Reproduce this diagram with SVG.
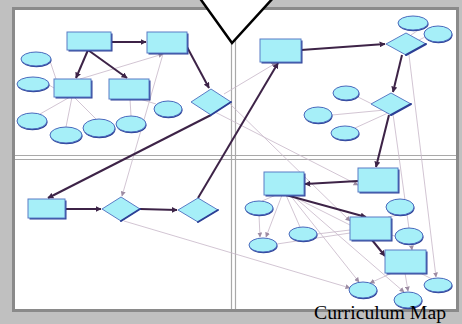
<svg xmlns="http://www.w3.org/2000/svg" width="462" height="324" viewBox="0 0 462 324">
<style>
.rs{fill:#2c3f95}
.rf{fill:#a6eff8;stroke:#5b7cc6;stroke-width:1}
.es{fill:#2c3f95}
.ef{fill:#a6eff8;stroke:#4a69bd;stroke-width:1}
.df{fill:#a6eff8;stroke:#5b7cc6;stroke-width:1}
.de{fill:none;stroke:#2c3f95;stroke-width:2;stroke-linecap:round}
.thick{fill:none;stroke:#3d2347;stroke-width:2}
.thin{fill:none;stroke:#c6b6c8;stroke-width:0.8}
.div{stroke:#a9a9a9;stroke-width:1.2}
</style>
<defs>
<marker id="ad" viewBox="0 0 10 10" refX="9" refY="5" markerWidth="6" markerHeight="6" markerUnits="userSpaceOnUse" orient="auto"><path d="M0,0 L10,5 L0,10 z" fill="#3d2347"/></marker>
<marker id="al" viewBox="0 0 10 10" refX="9" refY="5" markerWidth="5" markerHeight="5" markerUnits="userSpaceOnUse" orient="auto"><path d="M0,0 L10,5 L0,10 z" fill="#9d8ca3"/></marker>
</defs>
<rect x="0" y="0" width="462" height="324" fill="#c0c0c0"/>
<rect x="13.5" y="8.5" width="444" height="302" fill="#ffffff" stroke="#8a8a8a" stroke-width="3"/>
<g id="dividers">
<line class="div" x1="15" y1="155.5" x2="456" y2="155.5"/>
<line class="div" x1="15" y1="159.5" x2="456" y2="159.5"/>
<line class="div" x1="231.5" y1="10" x2="231.5" y2="309"/>
<line class="div" x1="235.5" y1="10" x2="235.5" y2="309"/>
</g>
<g id="connectors">
<line class="thin" x1="50" y1="61" x2="56" y2="79"/>
<line class="thin" x1="49" y1="85" x2="54" y2="88"/>
<line class="thin" x1="70" y1="97" x2="40" y2="114"/>
<line class="thin" x1="72" y1="97" x2="66" y2="127"/>
<line class="thin" x1="74" y1="97" x2="96" y2="119"/>
<line class="thin" x1="130" y1="99" x2="131" y2="116"/>
<line class="thin" x1="140" y1="99" x2="156" y2="104"/>
<line class="thin" x1="80" y1="79" x2="163" y2="54" marker-end="url(#al)"/>
<line class="thin" x1="163" y1="54" x2="122" y2="196" marker-end="url(#al)"/>
<line class="thin" x1="224" y1="94" x2="276" y2="63" marker-end="url(#al)"/>
<line class="thin" x1="229" y1="103" x2="350" y2="221" marker-end="url(#al)"/>
<line class="thin" x1="215" y1="112" x2="358" y2="185" marker-end="url(#al)"/>
<line class="thin" x1="420" y1="29" x2="411" y2="35"/>
<line class="thin" x1="425" y1="37" x2="419" y2="40"/>
<line class="thin" x1="358" y1="97" x2="372" y2="104"/>
<line class="thin" x1="332" y1="115" x2="385" y2="110"/>
<line class="thin" x1="355" y1="128" x2="388" y2="113"/>
<line class="thin" x1="409" y1="55" x2="436" y2="277" marker-end="url(#al)"/>
<line class="thin" x1="393" y1="114" x2="412" y2="250" marker-end="url(#al)"/>
<line class="thin" x1="124" y1="221" x2="350" y2="288" marker-end="url(#al)"/>
<line class="thin" x1="276" y1="195" x2="262" y2="201"/>
<line class="thin" x1="282" y1="195" x2="266" y2="237" marker-end="url(#al)"/>
<line class="thin" x1="259" y1="215" x2="260" y2="237" marker-end="url(#al)"/>
<line class="thin" x1="286" y1="195" x2="300" y2="227"/>
<line class="thin" x1="290" y1="195" x2="350" y2="225"/>
<line class="thin" x1="290" y1="195" x2="359" y2="282" marker-end="url(#al)"/>
<line class="thin" x1="292" y1="195" x2="404" y2="292" marker-end="url(#al)"/>
<line class="thin" x1="277" y1="244" x2="350" y2="233"/>
<line class="thin" x1="317" y1="234" x2="350" y2="230"/>
<line class="thin" x1="398" y1="215" x2="388" y2="217"/>
<line class="thin" x1="395" y1="236" x2="391" y2="235"/>
<line class="thin" x1="392" y1="273" x2="370" y2="283" marker-end="url(#al)"/>
<line class="thin" x1="405" y1="273" x2="408" y2="291" marker-end="url(#al)"/>
<line class="thin" x1="420" y1="273" x2="432" y2="279"/>
<line class="thick" x1="111" y1="42" x2="146" y2="42" marker-end="url(#ad)"/>
<line class="thick" x1="88" y1="50" x2="76" y2="78" marker-end="url(#ad)"/>
<line class="thick" x1="88" y1="50" x2="127" y2="78" marker-end="url(#ad)"/>
<line class="thick" x1="187" y1="47" x2="209" y2="88" marker-end="url(#ad)"/>
<line class="thick" x1="211" y1="115" x2="48" y2="198" marker-end="url(#ad)"/>
<line class="thick" x1="65" y1="209" x2="101" y2="209" marker-end="url(#ad)"/>
<line class="thick" x1="140" y1="209" x2="177" y2="210" marker-end="url(#ad)"/>
<line class="thick" x1="198" y1="198" x2="278" y2="63" marker-end="url(#ad)"/>
<line class="thick" x1="301" y1="50" x2="385" y2="44" marker-end="url(#ad)"/>
<line class="thick" x1="402" y1="55" x2="393" y2="92" marker-end="url(#ad)"/>
<line class="thick" x1="389" y1="115" x2="376" y2="167" marker-end="url(#ad)"/>
<line class="thick" x1="358" y1="181" x2="305" y2="184" marker-end="url(#ad)"/>
<line class="thick" x1="286" y1="195" x2="366" y2="217" marker-end="url(#ad)"/>
<line class="thick" x1="372" y1="240" x2="385" y2="256" marker-end="url(#ad)"/>
</g>
<g id="n_domain"><rect class="rs" x="68.5" y="33.5" width="44" height="18"/><rect class="rf" x="67" y="32" width="44" height="18"/></g>
<g id="n_tl2"><rect class="rs" x="148.5" y="33.5" width="40" height="21"/><rect class="rf" x="147" y="32" width="40" height="21"/></g>
<g id="n_tl3"><rect class="rs" x="55.5" y="80.5" width="37" height="18"/><rect class="rf" x="54" y="79" width="37" height="18"/></g>
<g id="n_tl4"><rect class="rs" x="110.5" y="80.5" width="40" height="20"/><rect class="rf" x="109" y="79" width="40" height="20"/></g>
<g id="n_tl_e1"><ellipse class="es" cx="36.5" cy="60.3" rx="15" ry="7"/><ellipse class="ef" cx="36" cy="59" rx="15" ry="7"/></g>
<g id="n_tl_e2"><ellipse class="es" cx="33.5" cy="85.3" rx="16" ry="7"/><ellipse class="ef" cx="33" cy="84" rx="16" ry="7"/></g>
<g id="n_tl_e3"><ellipse class="es" cx="168.5" cy="110.3" rx="14" ry="8"/><ellipse class="ef" cx="168" cy="109" rx="14" ry="8"/></g>
<g id="n_tl_e4"><ellipse class="es" cx="32.5" cy="122.3" rx="15" ry="8"/><ellipse class="ef" cx="32" cy="121" rx="15" ry="8"/></g>
<g id="n_tl_e5"><ellipse class="es" cx="66.5" cy="136.3" rx="16" ry="8"/><ellipse class="ef" cx="66" cy="135" rx="16" ry="8"/></g>
<g id="n_tl_e6"><ellipse class="es" cx="99.5" cy="129.3" rx="16" ry="9"/><ellipse class="ef" cx="99" cy="128" rx="16" ry="9"/></g>
<g id="n_tl_e7"><ellipse class="es" cx="131.5" cy="125.3" rx="15" ry="8"/><ellipse class="ef" cx="131" cy="124" rx="15" ry="8"/></g>
<g id="n_tl_d"><polygon class="df" points="191,102 211,89 231,102 211,115"/><polyline class="de" points="211,115 231,102"/></g>
<g id="n_tr1"><rect class="rs" x="261.5" y="40.5" width="41" height="23"/><rect class="rf" x="260" y="39" width="41" height="23"/></g>
<g id="n_tr_d1"><polygon class="df" points="386,44 406,33 426,44 406,55"/><polyline class="de" points="406,55 426,44"/></g>
<g id="n_tr_e1"><ellipse class="es" cx="413.5" cy="24.3" rx="15" ry="7"/><ellipse class="ef" cx="413" cy="23" rx="15" ry="7"/></g>
<g id="n_tr_e2"><ellipse class="es" cx="438.5" cy="35.3" rx="14" ry="8"/><ellipse class="ef" cx="438" cy="34" rx="14" ry="8"/></g>
<g id="n_tr_d2"><polygon class="df" points="371,104 391,93 411,104 391,115"/><polyline class="de" points="391,115 411,104"/></g>
<g id="n_tr_e3"><ellipse class="es" cx="346.5" cy="94.3" rx="13" ry="7"/><ellipse class="ef" cx="346" cy="93" rx="13" ry="7"/></g>
<g id="n_tr_e4"><ellipse class="es" cx="318.5" cy="116.3" rx="14" ry="8"/><ellipse class="ef" cx="318" cy="115" rx="14" ry="8"/></g>
<g id="n_tr_e5"><ellipse class="es" cx="345.5" cy="134.3" rx="14" ry="7"/><ellipse class="ef" cx="345" cy="133" rx="14" ry="7"/></g>
<g id="n_bl1"><rect class="rs" x="29.5" y="200.5" width="37" height="19"/><rect class="rf" x="28" y="199" width="37" height="19"/></g>
<g id="n_bl_d1"><polygon class="df" points="102,209 121,197 140,209 121,221"/><polyline class="de" points="121,221 140,209"/></g>
<g id="n_bl_d2"><polygon class="df" points="178,210 198,198 218,210 198,222"/><polyline class="de" points="198,222 218,210"/></g>
<g id="n_br1"><rect class="rs" x="265.5" y="173.5" width="40" height="23"/><rect class="rf" x="264" y="172" width="40" height="23"/></g>
<g id="n_br2"><rect class="rs" x="359.5" y="169.5" width="40" height="24"/><rect class="rf" x="358" y="168" width="40" height="24"/></g>
<g id="n_br3"><rect class="rs" x="351.5" y="218.5" width="41" height="23"/><rect class="rf" x="350" y="217" width="41" height="23"/></g>
<g id="n_br4"><rect class="rs" x="386.5" y="251.5" width="41" height="23"/><rect class="rf" x="385" y="250" width="41" height="23"/></g>
<g id="n_br_e1"><ellipse class="es" cx="259.5" cy="209.3" rx="14" ry="7"/><ellipse class="ef" cx="259" cy="208" rx="14" ry="7"/></g>
<g id="n_br_e2"><ellipse class="es" cx="263.5" cy="246.3" rx="14" ry="7"/><ellipse class="ef" cx="263" cy="245" rx="14" ry="7"/></g>
<g id="n_br_e3"><ellipse class="es" cx="303.5" cy="235.3" rx="14" ry="7"/><ellipse class="ef" cx="303" cy="234" rx="14" ry="7"/></g>
<g id="n_br_e4"><ellipse class="es" cx="400.5" cy="208.3" rx="14" ry="8"/><ellipse class="ef" cx="400" cy="207" rx="14" ry="8"/></g>
<g id="n_br_e5"><ellipse class="es" cx="409.5" cy="237.3" rx="14" ry="8"/><ellipse class="ef" cx="409" cy="236" rx="14" ry="8"/></g>
<g id="n_br_e6"><ellipse class="es" cx="363.5" cy="291.3" rx="14" ry="8"/><ellipse class="ef" cx="363" cy="290" rx="14" ry="8"/></g>
<g id="n_br_e7"><ellipse class="es" cx="408.5" cy="301.3" rx="14" ry="8"/><ellipse class="ef" cx="408" cy="300" rx="14" ry="8"/></g>
<g id="n_br_e8"><ellipse class="es" cx="438.5" cy="286.3" rx="14" ry="7"/><ellipse class="ef" cx="438" cy="285" rx="14" ry="7"/></g>
<g id="pointer"><polygon points="199,-3 232,43 274,-3" fill="#ffffff" stroke="#000000" stroke-width="2.5" stroke-linejoin="miter"/></g>
<text x="314" y="319" font-family="'Liberation Serif', 'Times New Roman', serif" font-size="18" textLength="132" lengthAdjust="spacingAndGlyphs" fill="#000000">Curriculum Map</text>
</svg>
